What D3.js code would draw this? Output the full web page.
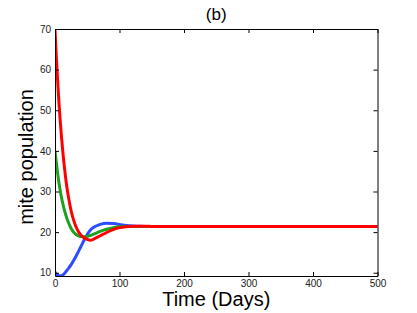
<!DOCTYPE html>
<html>
<head>
<meta charset="utf-8">
<script src="https://cdn.jsdelivr.net/npm/d3@7"></script>
<style>
  body { margin: 0; background: #fff; }
  svg { display: block; font-family: "Liberation Sans", Arial, sans-serif; }
  .axis path, .axis line { stroke: #000; }
  .axis text { fill: #222; font-size: 10px; }
</style>
</head>
<body>
<div id="chart"></div>
<script>
// time points (days)
var days = [0, 2, 4, 6, 8, 10, 12, 15, 18, 21, 25, 30, 35, 40, 45, 50, 55, 60, 70, 80, 90, 100, 110, 120, 130, 140, 150, 175, 200, 250, 300, 400, 500];

// mite population, three starting values
var blueSeries  = [10.2, 9.7, 9.4, 9.25, 9.2, 9.25, 9.45, 9.9, 10.5, 11.1, 12.0, 13.3, 14.8, 16.4, 18.0, 19.4, 20.5, 21.2, 21.9, 22.2, 22.1, 21.9, 21.65, 21.5, 21.45, 21.4, 21.4, 21.4, 21.4, 21.4, 21.4, 21.4, 21.4];
var greenSeries = [40, 37.2, 34.6, 32.3, 30.3, 28.6, 27.1, 25.2, 23.6, 22.3, 20.9, 19.8, 19.2, 18.9, 18.85, 18.95, 19.2, 19.5, 20.2, 20.7, 21.1, 21.3, 21.4, 21.4, 21.4, 21.4, 21.4, 21.4, 21.4, 21.4, 21.4, 21.4, 21.4];
var redSeries   = [70, 63.3, 57.5, 52.2, 47.6, 43.6, 40.0, 35.4, 31.5, 28.5, 25.2, 22.4, 20.5, 19.3, 18.6, 18.2, 18.0, 18.3, 19.1, 19.9, 20.6, 21.1, 21.35, 21.45, 21.45, 21.45, 21.4, 21.4, 21.4, 21.4, 21.4, 21.4, 21.4];

var xTicks = [0, 100, 200, 300, 400, 500];
var yTicks = [10, 20, 30, 40, 50, 60, 70];

var width = 417,
    height = 313,
    plotLeft = 55, plotRight = 377.5, plotTop = 29, plotBottom = 276;

var svg = d3.select("#chart").append("svg")
    .attr("width", width)
    .attr("height", height);

var x = d3.scaleLinear().domain([0, 500]).range([plotLeft, plotRight]);
var y = d3.scaleLinear().domain([9.2, 70]).range([plotBottom, plotTop]);

svg.append("defs").append("clipPath").attr("id", "plotclip")
    .append("rect")
    .attr("x", plotLeft).attr("y", plotTop)
    .attr("width", plotRight - plotLeft).attr("height", plotBottom - plotTop);

// curves
var line = d3.line()
    .x(function(d, i) { return x(days[i]); })
    .y(function(d) { return y(d); })
    .curve(d3.curveMonotoneX);

var series = [
    { values: blueSeries,  color: "#2b4cff" },
    { values: greenSeries, color: "#1fa01f" },
    { values: redSeries,   color: "#ff0000" }
];

svg.append("g").attr("clip-path", "url(#plotclip)")
    .selectAll("path")
    .data(series)
    .enter()
    .append("path")
    .attr("fill", "none")
    .attr("stroke", function(d) { return d.color; })
    .attr("stroke-width", 3)
    .attr("stroke-linejoin", "round")
    .attr("d", function(d) { return line(d.values); });

// axes (ticks point inward, box all round)
svg.append("g").attr("class", "axis")
    .attr("transform", "translate(0," + plotBottom + ")")
    .call(d3.axisBottom(x).tickValues(xTicks).tickSize(-4).tickSizeOuter(0).tickPadding(4));

svg.append("g").attr("class", "axis")
    .attr("transform", "translate(" + plotLeft + ",0)")
    .call(d3.axisLeft(y).tickValues(yTicks).tickSize(-4).tickSizeOuter(0).tickPadding(4));

svg.append("g").attr("class", "axis")
    .attr("transform", "translate(0," + plotTop + ")")
    .call(d3.axisTop(x).tickValues(xTicks).tickSize(-4).tickSizeOuter(0).tickFormat(""));

svg.append("g").attr("class", "axis")
    .attr("transform", "translate(" + plotRight + ",0)")
    .call(d3.axisRight(y).tickValues(yTicks).tickSize(-4).tickSizeOuter(0).tickFormat(""));

// labels
svg.append("text")
    .attr("x", (plotLeft + plotRight) / 2)
    .attr("y", 20)
    .attr("text-anchor", "middle")
    .style("font-size", "17px")
    .text("(b)");

svg.append("text")
    .attr("x", (plotLeft + plotRight) / 2)
    .attr("y", 306)
    .attr("text-anchor", "middle")
    .style("font-size", "20px")
    .text("Time (Days)");

svg.append("text")
    .attr("transform", "translate(33," + 157 + ") rotate(-90)")
    .attr("text-anchor", "middle")
    .style("font-size", "20px")
    .text("mite population");
</script>
</body>
</html>
